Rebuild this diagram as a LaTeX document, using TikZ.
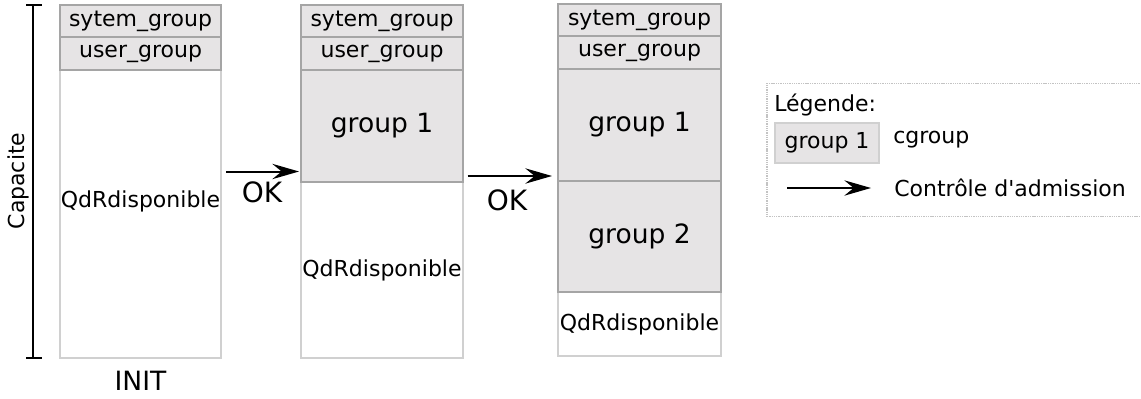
\documentclass[tikz,border=0pt]{standalone}
\usepackage{fontspec}
\setmainfont{DejaVu Sans}
\usetikzlibrary{arrows.meta}
\definecolor{gfill}{RGB}{230,228,229}
\definecolor{gline}{RGB}{165,165,165}
\definecolor{wline}{RGB}{208,208,208}
\definecolor{lline}{RGB}{195,195,195}
\newcommand{\straightquote}{\XeTeXglyph\XeTeXcharglyph"0027\relax}
\tikzset{
  small/.style={font=\fontsize{16.5pt}{19pt}\selectfont},
  big/.style={font=\fontsize{19.9pt}{23pt}\selectfont},
  okfont/.style={font=\fontsize{21pt}{24pt}\selectfont},
  gbox/.style={draw=gline, fill=gfill, line width=1.5pt, inner sep=0pt, rectangle},
  wbox/.style={draw=wline, fill=white, line width=1.5pt, inner sep=0pt, rectangle},
  arr/.style={-{Stealth[length=20pt,width=11.5pt,inset=7pt]}, line width=1.5pt, black},
}
\begin{document}
\begin{tikzpicture}[x=0.75pt,y=-0.75pt]
\useasboundingbox (0,0) rectangle (1141,399);
% column 1
\node[wbox, minimum width=161*0.75pt, minimum height=288*0.75pt] (q1) at (140.5,214) {};
\node[gbox, small, minimum width=161*0.75pt, minimum height=32*0.75pt] (s1) at (140.5,21) {sytem\_group};
\node[gbox, small, minimum width=161*0.75pt, minimum height=33*0.75pt] (u1) at (140.5,53.5) {user\_group};
\node[small, inner sep=0pt] (t1) at (140.5,201) {QdRdisponible};
\node[big, inner sep=0pt] (init) at (140.5,381) {INIT};
% column 2
\node[wbox, small, minimum width=162*0.75pt, minimum height=176*0.75pt] (q2) at (382,270) {QdRdisponible};
\node[gbox, big, minimum width=162*0.75pt, minimum height=112*0.75pt] (g2a) at (382,126) {group 1};
\node[gbox, small, minimum width=162*0.75pt, minimum height=32*0.75pt] (s2) at (382,21) {sytem\_group};
\node[gbox, small, minimum width=162*0.75pt, minimum height=33*0.75pt] (u2) at (382,53.5) {user\_group};
% column 3
\node[wbox, small, minimum width=163*0.75pt, minimum height=64*0.75pt] (q3) at (639.5,324) {QdRdisponible};
\node[gbox, big, minimum width=163*0.75pt, minimum height=111*0.75pt] (g3b) at (639.5,236.5) {group 2};
\node[gbox, big, minimum width=163*0.75pt, minimum height=112*0.75pt] (g3a) at (639.5,125) {group 1};
\node[gbox, small, minimum width=163*0.75pt, minimum height=32*0.75pt] (s3) at (639.5,20) {sytem\_group};
\node[gbox, small, minimum width=163*0.75pt, minimum height=33*0.75pt] (u3) at (639.5,52.5) {user\_group};
% scale bar
\coordinate (bt) at (33,5);
\coordinate (bb) at (33,358);
\draw[line width=1.5pt] (bt) -- (bb);
\draw[line width=1.5pt] ([xshift=-7*0.75pt]bt) -- ([xshift=9*0.75pt]bt);
\draw[line width=1.5pt] ([xshift=-7*0.75pt]bb) -- ([xshift=9*0.75pt]bb);
\node[small, rotate=90, inner sep=0pt] (cap) at (18,181) {Capacite};
% arrows
\coordinate (a1s) at (226,171.5);
\coordinate (a1e) at (299,171.5);
\draw[arr] (a1s) -- (a1e);
\node[okfont, inner sep=0pt] (ok1) at (262,192) {OK};
\coordinate (a2s) at (467.5,176);
\coordinate (a2e) at (552,176);
\draw[arr] (a2s) -- (a2e);
\node[okfont, inner sep=0pt] (ok2) at (507,200) {OK};
% legend
\node[draw=lline, line width=1.2pt, dash pattern=on 1pt off 0.7pt, minimum width=376*0.75pt, minimum height=133*0.75pt, inner sep=0pt] (leg) at (955,150) {};
\node[small, anchor=west, inner sep=0pt] (legt) at (774,105) {Légende:};
\node[draw=wline, fill=gfill, line width=1.2pt, small, minimum width=104*0.75pt, minimum height=40*0.75pt, inner sep=0pt] (lg) at (827,143) {group 1};
\node[small, anchor=west, inner sep=0pt] (lgt) at (893,140) {cgroup};
\coordinate (las) at (787,188);
\coordinate (lae) at (871,188);
\draw[arr] (las) -- (lae);
\node[small, anchor=west, inner sep=0pt] (lat) at (894,188) {Contrôle d\straightquote admission};
\end{tikzpicture}
\end{document}
